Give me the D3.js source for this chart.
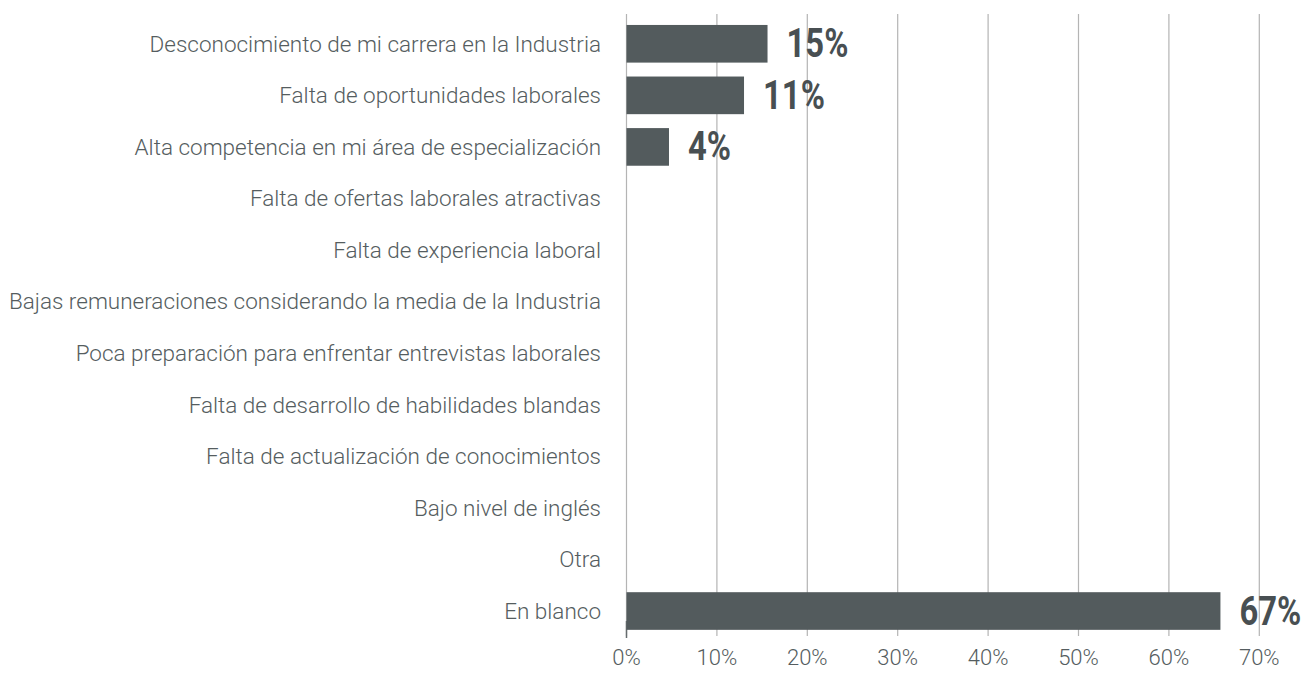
<!DOCTYPE html>
<html>
<head>
<meta charset="utf-8">
<script src="https://cdn.jsdelivr.net/npm/d3@7"></script>
<style>
	html, body { margin: 0; padding: 0; background: #ffffff; }
	#mein-bar { width: 1310px; height: 674px; }
	.cat-label { font-family: Roboto, "Noto Sans", sans-serif; font-weight: 300; font-size: 22.5px; fill: #555d60; }
	.tick-label { font-family: Roboto, "Noto Sans", sans-serif; font-weight: 300; font-size: 22px; fill: #555d60; }
	.val-label { font-family: Roboto, "Noto Sans", sans-serif; font-weight: bold; font-size: 40px; fill: #484f52; }
	.grid-wrapper line { stroke: #b4b4b4; stroke-width: 1.2; }
</style>
</head>
<body>
<div id="mein-bar"></div>
<script>
let categories = [
	"Desconocimiento de mi carrera en la Industria",
	"Falta de oportunidades laborales",
	"Alta competencia en mi área de especialización",
	"Falta de ofertas laborales atractivas",
	"Falta de experiencia laboral",
	"Bajas remuneraciones considerando la media de la Industria",
	"Poca preparación para enfrentar entrevistas laborales",
	"Falta de desarrollo de habilidades blandas",
	"Falta de actualización de conocimientos",
	"Bajo nivel de inglés",
	"Otra",
	"En blanco"
];
// bar lengths as drawn (%), and the labels printed next to them
let values		= [15.6, 13.0, 4.7, 0, 0, 0, 0, 0, 0, 0, 0, 65.7];
let valueLabels	= ["15%", "11%", "4%", "", "", "", "", "", "", "", "", "67%"];
let ticks		= [0, 10, 20, 30, 40, 50, 60, 70];

function createBar() {
	let canvasWidth		= 1310;
	let canvasHeight	= 674;

	let left			= 626.5;
	let x 				= d3.scaleLinear().range([left, left + 70 * 9.04]).domain([0, 70]);
	let y 				= d3.scaleBand().range([18, 636.8]).paddingInner(0.27).paddingOuter(0.135).domain(categories);

	let data = categories.map((o, i) => ({ cat: o, val: values[i], label: valueLabels[i] }));

	let svg = d3.select("#mein-bar").append("svg")
		.attr("width", canvasWidth)
		.attr("height", canvasHeight);

	svg.append('g')
		.attr('class', 'grid-wrapper')
		.selectAll('line')
		.data(ticks)
			.enter().append('line')
			.attr('x1', (o) => (x(o)))
			.attr('x2', (o) => (x(o)))
			.attr('y1', 14)
			.attr('y2', 636);

	// little dark stub of the axis at zero
	svg.append('line')
		.attr('x1', x(0)).attr('x2', x(0))
		.attr('y1', 621).attr('y2', 638)
		.attr('stroke', '#666c6e')
		.attr('stroke-width', 1.5);

	svg.append('g')
		.selectAll('text')
		.data(ticks)
			.enter().append('text')
			.attr('class', 'tick-label')
			.attr('x', (o) => (x(o)))
			.attr('y', 665)
			.attr('text-anchor', 'middle')
			.text((o) => (o + '%'));

	svg.append('g')
		.selectAll('text')
		.data(data)
			.enter().append('text')
			.attr('class', 'cat-label')
			.attr('x', 601)
			.attr('y', (o) => (y(o.cat) + y.bandwidth() / 2))
			.attr('dy', '0.35em')
			.attr('text-anchor', 'end')
			.text((o) => (o.cat));

	let groupBar = svg.append('g').selectAll('.bar').data(data.filter((o) => (o.val > 0))).enter().append('g');

	groupBar.append('rect')
		.attr('x', x(0))
		.attr('y', (o) => (y(o.cat)))
		.attr('width', (o) => (x(o.val) - x(0)))
		.attr('height', y.bandwidth())
		.attr('fill', '#535b5d');

	// condensed bold look: squeeze the label horizontally
	groupBar.append('text')
		.attr('class', 'val-label')
		.attr('transform', (o) => ("translate(" + (x(o.val) + 19) + "," + (y(o.cat) + y.bandwidth() / 2 + 13.5) + ") scale(0.82,1)"))
		.text((o) => (o.label));
}

createBar();
</script>
</body>
</html>
